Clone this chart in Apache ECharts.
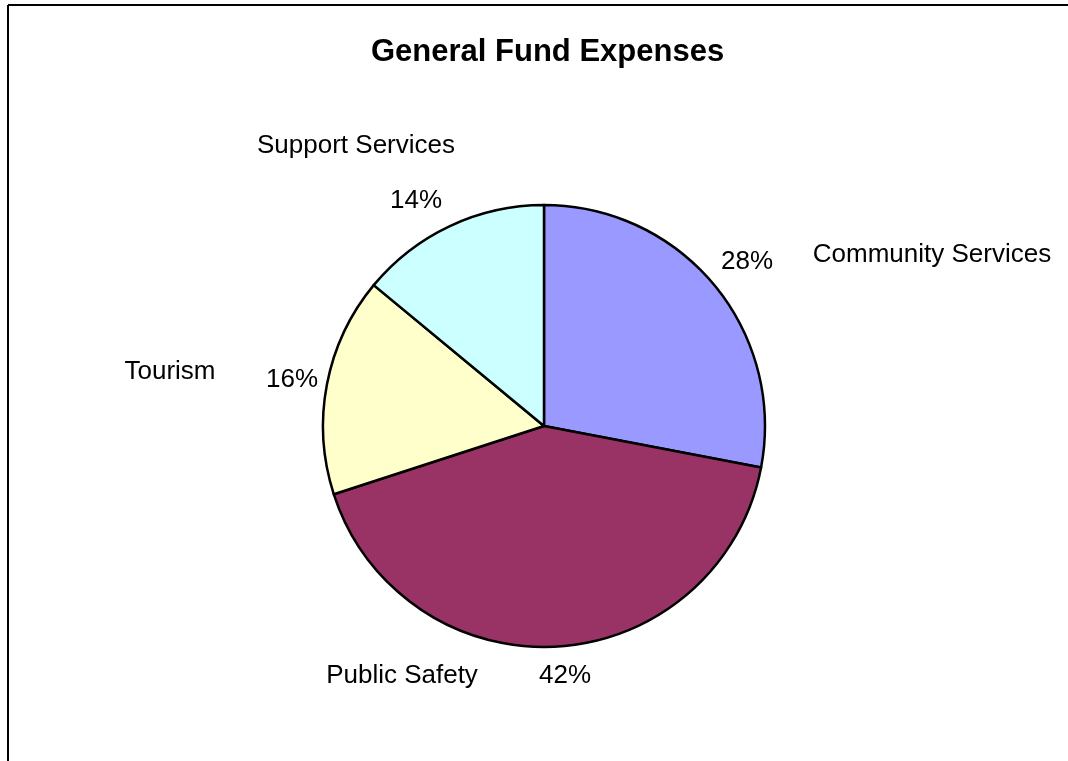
<!DOCTYPE html>
<html>
<head>
<meta charset="utf-8">
<title>General Fund Expenses</title>
<script src="https://cdn.jsdelivr.net/npm/echarts@6/dist/echarts.min.js"></script>
<style>
  html, body { margin: 0; padding: 0; background: #ffffff; }
  #chart { width: 1068px; height: 761px; }
</style>
</head>
<body>
<div id="chart"></div>
<script>
// Expense categories, clockwise from twelve o'clock
const categories = ['Community Services', 'Public Safety', 'Tourism', 'Support Services'];
// Share of general fund expenses, in percent
const shares = [28, 42, 16, 14];
const sliceColors = ['#9999FF', '#993366', '#FFFFCC', '#CCFFFF'];

// Label anchor points (centre of each text) for the percent and name labels
const pctLabelPos = [[747, 262], [565, 676], [292, 380], [416, 201]];
const nameLabelPos = [[932, 255], [402, 676], [170, 372], [356, 146]];

const FONT = 'Liberation Sans, Arial, sans-serif';
const pieCenter = [544, 426];
const pieRadius = 221;

const chart = echarts.init(document.getElementById('chart'), null, { renderer: 'canvas' });

const pieData = categories.map((name, i) => ({
  name: name,
  value: shares[i],
  itemStyle: { color: sliceColors[i] }
}));

function placeAt(positions) {
  return function (params) {
    const p = positions[params.dataIndex];
    return { x: p[0], y: p[1], align: 'center', verticalAlign: 'middle' };
  };
}

chart.setOption({
  animation: false,
  backgroundColor: '#ffffff',
  title: {
    text: 'General Fund Expenses',
    left: 366,
    top: 32,
    textStyle: { fontFamily: FONT, fontWeight: 'bold', fontSize: 31, color: '#000000' }
  },
  graphic: [
    // chart frame: top and left edges
    { type: 'line', shape: { x1: 8, y1: 5, x2: 1068, y2: 5 }, style: { stroke: '#000', lineWidth: 2 } },
    { type: 'line', shape: { x1: 8, y1: 5, x2: 8, y2: 761 }, style: { stroke: '#000', lineWidth: 2 } }
  ],
  series: [
    {
      type: 'pie',
      center: pieCenter,
      radius: pieRadius,
      startAngle: 90,
      clockwise: true,
      silent: true,
      data: pieData,
      itemStyle: { borderColor: '#000000', borderWidth: 2.5 },
      label: {
        show: true,
        formatter: p => p.value + '%',
        fontFamily: FONT,
        fontSize: 26,
        color: '#000000'
      },
      labelLine: { show: false },
      labelLayout: placeAt(pctLabelPos)
    },
    {
      type: 'pie',
      center: pieCenter,
      radius: pieRadius,
      startAngle: 90,
      clockwise: true,
      silent: true,
      z: 1,
      data: categories.map((name, i) => ({ name: name, value: shares[i] })),
      itemStyle: { color: 'rgba(0,0,0,0)', borderWidth: 0 },
      label: {
        show: true,
        formatter: '{b}',
        fontFamily: FONT,
        fontSize: 26,
        color: '#000000'
      },
      labelLine: { show: false },
      labelLayout: placeAt(nameLabelPos)
    }
  ]
});
</script>
</body>
</html>
